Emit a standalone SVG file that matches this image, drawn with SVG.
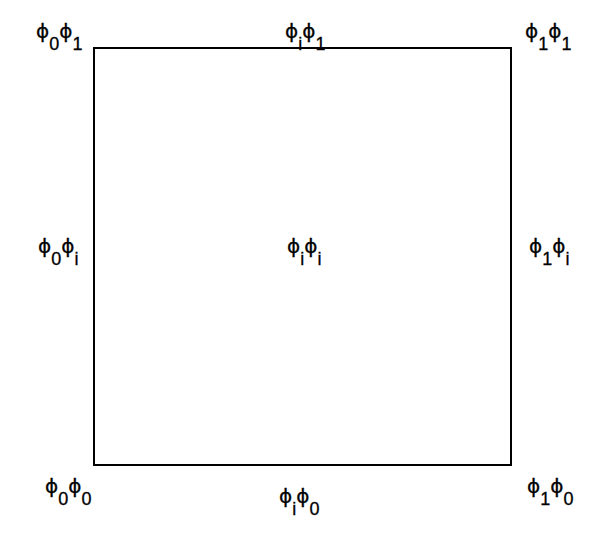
<svg xmlns="http://www.w3.org/2000/svg" width="605" height="536" viewBox="0 0 605 536">
<style>
text{font-family:"Liberation Sans",Arial,sans-serif;font-size:18px;fill:#000;stroke:#000;stroke-width:0.3}
.p{font-family:"DejaVu Sans",sans-serif;font-size:20px}
.s{font-size:18px}
</style>
<rect width="605" height="536" fill="#fff"/>
<g id="edges"><rect x="94" y="48" width="417" height="417" fill="none" stroke="#000" stroke-width="2"/></g>
<g id="tl"><text x="36" y="38"><tspan class="p">ϕ</tspan><tspan class="s" dy="12">0</tspan><tspan class="p" dy="-12">ϕ</tspan><tspan class="s" dy="12">1</tspan></text></g>
<g id="tm"><text x="285" y="38"><tspan class="p">ϕ</tspan><tspan class="s" dy="12">i</tspan><tspan class="p" dy="-12">ϕ</tspan><tspan class="s" dy="12">1</tspan></text></g>
<g id="tr"><text x="525" y="38"><tspan class="p">ϕ</tspan><tspan class="s" dy="12">1</tspan><tspan class="p" dy="-12">ϕ</tspan><tspan class="s" dy="12">1</tspan></text></g>
<g id="ml"><text x="38" y="253"><tspan class="p">ϕ</tspan><tspan class="s" dy="12">0</tspan><tspan class="p" dy="-12">ϕ</tspan><tspan class="s" dy="12">i</tspan></text></g>
<g id="mm"><text x="287" y="253"><tspan class="p">ϕ</tspan><tspan class="s" dy="12">i</tspan><tspan class="p" dy="-12">ϕ</tspan><tspan class="s" dy="12">i</tspan></text></g>
<g id="mr"><text x="529" y="253"><tspan class="p">ϕ</tspan><tspan class="s" dy="12">1</tspan><tspan class="p" dy="-12">ϕ</tspan><tspan class="s" dy="12">i</tspan></text></g>
<g id="bl"><text x="45" y="493"><tspan class="p">ϕ</tspan><tspan class="s" dy="12">0</tspan><tspan class="p" dy="-12">ϕ</tspan><tspan class="s" dy="12">0</tspan></text></g>
<g id="bm"><text x="279" y="503"><tspan class="p">ϕ</tspan><tspan class="s" dy="12">i</tspan><tspan class="p" dy="-12">ϕ</tspan><tspan class="s" dy="12">0</tspan></text></g>
<g id="br"><text x="527" y="493"><tspan class="p">ϕ</tspan><tspan class="s" dy="12">1</tspan><tspan class="p" dy="-12">ϕ</tspan><tspan class="s" dy="12">0</tspan></text></g>
</svg>
